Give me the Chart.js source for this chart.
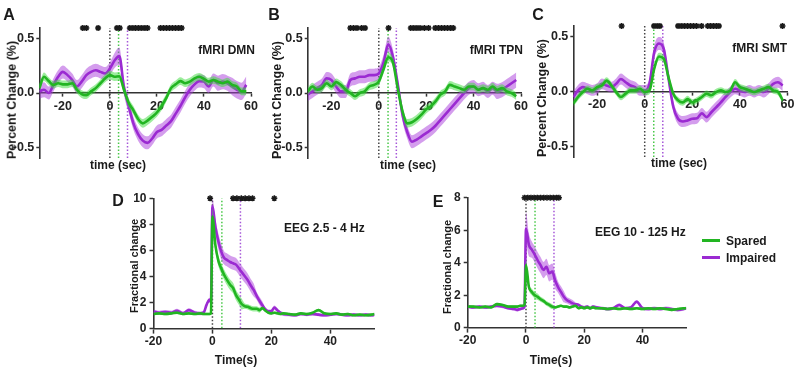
<!DOCTYPE html>
<html>
<head>
<meta charset="utf-8">
<script src="https://cdn.jsdelivr.net/npm/chart.js"></script>
<style>
  body { margin: 0; background: #fff; }
  #wrap { position: relative; width: 800px; height: 372px; overflow: hidden;
          font-family: 'Liberation Sans', Arial, sans-serif; font-weight: bold; color: #1a1a1a; }
  canvas { position: absolute; left: 0; top: 0; }
  .t { position: absolute; white-space: nowrap; line-height: 1; font-size: 12px; transform: translate(-50%, -50%); }
  .letter { font-size: 16px; }
  .rot { transform: translate(-50%, -50%) rotate(-90deg); }
  .yl { font-size: 12.5px; }
  .yl2 { font-size: 11px; }
  .right { transform: translate(-100%, -50%); }
  .left { transform: translate(0, -50%); }
  .key { position: absolute; width: 18px; height: 3px; }
</style>
</head>
<body>
<div id="wrap">
  <canvas id="cA" width="800" height="372"></canvas>
  <canvas id="cB" width="800" height="372"></canvas>
  <canvas id="cC" width="800" height="372"></canvas>
  <canvas id="cD" width="800" height="372"></canvas>
  <canvas id="cE" width="800" height="372"></canvas>

  <div class="t letter" style="left:9px;top:15px">A</div>
  <div class="t letter" style="left:274px;top:15px">B</div>
  <div class="t letter" style="left:538px;top:15px">C</div>
  <div class="t letter" style="left:118px;top:201px">D</div>
  <div class="t letter" style="left:438px;top:202px">E</div>

  <div class="t rot yl" style="left:12px;top:100px">Percent Change (%)</div>
  <div class="t rot yl" style="left:277px;top:100px">Percent Change (%)</div>
  <div class="t rot yl" style="left:542px;top:98px">Percent Change (%)</div>
  <div class="t rot yl2" style="left:134px;top:266px">Fractional change</div>
  <div class="t rot yl2" style="left:447px;top:267px">Fractional change</div>

  <div class="t" style="left:118px;top:165px">time (sec)</div>
  <div class="t" style="left:408px;top:165px">time (sec)</div>
  <div class="t" style="left:679px;top:163px">time (sec)</div>
  <div class="t" style="left:236px;top:360px">Time(s)</div>
  <div class="t" style="left:551px;top:360px">Time(s)</div>

  <div class="t right" style="left:255px;top:50px">fMRI DMN</div>
  <div class="t right" style="left:523px;top:50px">fMRI TPN</div>
  <div class="t right" style="left:787px;top:48px">fMRI SMT</div>
  <div class="t left" style="left:284px;top:228px">EEG 2.5 - 4 Hz</div>
  <div class="t left" style="left:595px;top:232px">EEG 10 - 125 Hz</div>

  <div class="key" style="left:702px;top:239px;background:#22b522"></div>
  <div class="t left" style="left:726px;top:241px">Spared</div>
  <div class="key" style="left:702px;top:256px;background:#9b2ad2"></div>
  <div class="t left" style="left:726px;top:258px">Impaired</div>
</div>

<script>
// ---- fMRI panels (A-C), time in sec ----
const fmriTime = [-30,-28,-26,-24,-22,-20,-18,-16,-14,-12,-10,-8,-6,-4,-2,0,2,4,6,8,10,12,14,16,18,20,22,24,26,28,30,32,34,36,38,40,42,44,46,48,50,52,54,56,58];
const fmriXTicks = [-20, 0, 20, 40, 60];
const fmriYTicks = [-0.5, 0, 0.5];

const dmnSpared = [0.045,0.15,0.11,0.075,0.09,0.08,0.08,0.09,0.03,-0.01,-0.02,0.015,0.045,0.09,0.135,0.165,0.15,0.155,0.03,-0.09,-0.16,-0.24,-0.28,-0.255,-0.22,-0.18,-0.12,-0.045,0.045,0.08,0.11,0.09,0.105,0.135,0.15,0.13,0.105,0.12,0.105,0.09,0.105,0.075,0.06,0.015,0.015];
const dmnSparedSem = [0.04,0.04,0.035,0.035,0.035,0.035,0.035,0.035,0.035,0.035,0.035,0.035,0.035,0.035,0.035,0.04,0.04,0.04,0.04,0.04,0.04,0.04,0.04,0.04,0.04,0.04,0.04,0.035,0.035,0.035,0.035,0.035,0.035,0.035,0.035,0.035,0.035,0.035,0.035,0.035,0.035,0.035,0.035,0.035,0.035];
const dmnImpaired = [0.015,0.03,0.0,0.075,0.15,0.195,0.165,0.12,0.06,0.105,0.165,0.195,0.21,0.195,0.18,0.225,0.3,0.34,0.05,-0.12,-0.28,-0.38,-0.44,-0.46,-0.42,-0.36,-0.34,-0.3,-0.26,-0.19,-0.12,-0.04,0.03,0.08,0.11,0.105,0.06,0.12,0.09,0.105,0.09,0.06,0.03,0.015,0.075];
const dmnImpairedSem = [0.07,0.07,0.06,0.06,0.06,0.06,0.06,0.06,0.06,0.06,0.06,0.06,0.06,0.06,0.06,0.06,0.07,0.08,0.07,0.06,0.06,0.06,0.06,0.06,0.06,0.06,0.06,0.06,0.06,0.06,0.06,0.06,0.06,0.06,0.06,0.06,0.06,0.06,0.07,0.07,0.07,0.08,0.08,0.08,0.08];
const dmnStars = [-11.5,-10,-5,3,4.2,8.5,9.8,11,12.3,13.6,14.9,16,21.5,22.8,24.1,25.4,26.7,28,29.3,30.5];
const dmnMarkers = [0, 3.7, 7.5];

const tpnSpared = [0.015,0.06,0.03,0.045,0.09,0.06,0.1,0.075,0.03,0.0,-0.03,0.0,0.015,0.06,0.075,0.105,0.22,0.33,0.28,0.04,-0.17,-0.28,-0.27,-0.24,-0.2,-0.15,-0.12,-0.075,-0.015,0.015,0.075,0.06,0.045,0.03,0.06,0.06,0.03,0.045,0.03,0.06,0.03,0.045,0.015,0.0,-0.03];
const tpnSparedSem = [0.035,0.035,0.035,0.035,0.035,0.035,0.035,0.035,0.035,0.035,0.035,0.035,0.035,0.035,0.035,0.035,0.04,0.04,0.04,0.04,0.04,0.04,0.04,0.04,0.04,0.04,0.035,0.035,0.035,0.035,0.035,0.035,0.035,0.035,0.035,0.035,0.035,0.035,0.035,0.035,0.035,0.035,0.035,0.035,0.035];
const tpnImpaired = [-0.015,0.015,0.045,0.075,0.135,0.12,0.06,0.015,0.015,0.12,0.135,0.15,0.15,0.165,0.165,0.18,0.28,0.45,0.33,0.08,-0.2,-0.36,-0.45,-0.43,-0.4,-0.37,-0.34,-0.3,-0.25,-0.2,-0.15,-0.1,-0.05,0.0,0.045,0.06,0.03,0.045,0.015,0.045,0.015,0.03,0.06,0.09,0.12];
const tpnImpairedSem = [0.06,0.06,0.06,0.06,0.06,0.06,0.06,0.06,0.06,0.06,0.06,0.06,0.06,0.06,0.06,0.06,0.07,0.07,0.07,0.06,0.06,0.06,0.06,0.06,0.06,0.06,0.06,0.06,0.06,0.06,0.06,0.06,0.06,0.06,0.06,0.06,0.06,0.06,0.06,0.06,0.07,0.07,0.07,0.07,0.07];
const tpnStars = [-12,-10.6,-9.2,-7.2,-5.8,4.1,13.5,14.8,16.1,17.4,19.2,21,23.8,25.1,26.4,27.7,29,30.3,31.4];
const tpnMarkers = [0, 3.9, 7.4];

const smtSpared = [-0.11,-0.05,-0.005,0.025,0.01,0.04,0.055,0.1,0.055,-0.005,-0.05,-0.02,0.01,0.01,0.025,-0.005,0.01,0.21,0.32,0.3,0.13,-0.02,-0.08,-0.1,-0.07,-0.1,-0.08,-0.05,-0.02,-0.035,-0.005,0.01,-0.005,0.01,0.085,0.04,0.025,0.01,-0.005,0.01,0.025,0.04,0.01,-0.005,-0.08];
const smtSparedSem = [0.03,0.03,0.03,0.03,0.03,0.03,0.03,0.03,0.03,0.03,0.03,0.03,0.03,0.03,0.03,0.03,0.035,0.035,0.035,0.035,0.035,0.03,0.03,0.03,0.03,0.03,0.03,0.03,0.03,0.03,0.03,0.03,0.03,0.03,0.03,0.03,0.03,0.03,0.03,0.03,0.03,0.03,0.03,0.03,0.03];
const smtImpaired = [-0.05,0.01,0.04,0.025,0.01,0.025,0.07,0.055,0.04,0.07,0.115,0.085,0.055,0.04,0.01,0.01,0.07,0.36,0.44,0.39,0.12,-0.14,-0.25,-0.275,-0.265,-0.25,-0.245,-0.2,-0.235,-0.19,-0.145,-0.1,-0.05,-0.005,0.025,0.01,-0.005,0.01,-0.005,0.01,-0.005,0.025,0.07,0.085,0.055];
const smtImpairedSem = [0.05,0.05,0.05,0.05,0.05,0.05,0.05,0.05,0.05,0.05,0.05,0.05,0.05,0.05,0.05,0.05,0.05,0.06,0.06,0.06,0.05,0.05,0.05,0.05,0.05,0.05,0.05,0.05,0.05,0.05,0.05,0.05,0.05,0.05,0.05,0.05,0.05,0.05,0.05,0.05,0.05,0.05,0.05,0.05,0.05];
const smtStars = [-9.7,3.9,5.2,6.4,14,15.3,16.6,17.9,19.2,20.5,21.8,23.9,26.5,27.7,28.9,30.1,31.2,57.9];
const smtMarkers = [0, 3.8, 7.6];

// ---- EEG panels (D, E), time in s ----
const eegTime = [-20,-18,-16,-14,-12,-10,-8,-6,-4,-3,-2,-1,-0.5,0,1,2,3,4,5,6,7,8,9,10,11,12,13,14,15,16,17,18,19,20,21,22,23,24,26,28,30,32,34,36,38,40,42,44,46,48,50,52,54,55];
const eegXTicks = [-20, 0, 20, 40];
const deltaYTicks = [0, 2, 4, 6, 8, 10];
const gammaYTicks = [0, 2, 4, 6, 8];

const deltaSpared = [1.1,1.15,1.1,1.15,1.2,1.1,1.15,1.1,1.15,1.1,1.1,1.1,1.15,8.6,6.4,5.2,4.6,4.1,3.7,3.35,3.1,2.55,2.2,1.85,1.7,1.65,1.55,1.5,1.5,1.4,1.55,1.35,1.2,1.15,1.2,1.15,1.1,1.15,1.1,1.05,1.15,1.1,1.2,1.4,1.15,1.1,1.15,1.05,1.1,1.0,1.05,1.0,1.05,1.1];
const deltaSparedSem = [0.1,0.1,0.1,0.1,0.1,0.1,0.1,0.1,0.1,0.1,0.1,0.1,0.1,0.6,0.4,0.4,0.4,0.4,0.4,0.4,0.4,0.4,0.4,0.4,0.2,0.2,0.2,0.2,0.2,0.2,0.1,0.1,0.1,0.1,0.1,0.1,0.1,0.1,0.1,0.1,0.1,0.1,0.1,0.1,0.1,0.1,0.1,0.1,0.1,0.1,0.1,0.1,0.1,0.1];
const deltaImpaired = [1.3,1.2,1.25,1.2,1.35,1.15,1.4,1.2,1.15,1.2,1.8,2.2,2.0,9.4,7.8,6.7,5.9,5.4,5.25,5.1,5.0,4.9,4.6,4.3,4.0,3.7,3.3,2.95,2.5,2.1,1.75,1.45,1.3,1.3,1.6,1.4,1.2,1.1,1.05,1.0,1.1,1.05,1.1,1.05,1.0,1.05,1.1,1.05,1.0,1.05,1.0,1.05,1.0,1.05];
const deltaImpairedSem = [0.15,0.15,0.15,0.15,0.15,0.15,0.15,0.15,0.15,0.15,0.15,0.15,0.15,0.6,0.6,0.6,0.6,0.5,0.5,0.5,0.5,0.5,0.5,0.5,0.5,0.5,0.5,0.5,0.3,0.3,0.3,0.15,0.15,0.15,0.15,0.15,0.15,0.15,0.12,0.12,0.12,0.12,0.12,0.12,0.12,0.12,0.12,0.12,0.12,0.12,0.12,0.12,0.12,0.12];
const deltaStars = [-0.8,7.0,8.3,9.8,11.1,12.4,13.6,21];
const deltaMarkers = [0, 3.2, 9.5];

const gammaSpared = [1.3,1.3,1.25,1.3,1.25,1.45,1.4,1.3,1.3,1.3,1.35,1.35,1.4,3.85,2.5,2.2,2.0,1.9,1.75,1.65,1.5,1.4,1.3,1.25,1.3,1.35,1.3,1.3,1.25,1.3,1.35,1.2,1.25,1.2,1.25,1.2,1.25,1.2,1.2,1.15,1.2,1.15,1.2,1.15,1.2,1.15,1.2,1.15,1.2,1.15,1.1,1.15,1.2,1.2];
const gammaSparedSem = [0.08,0.08,0.08,0.08,0.08,0.08,0.08,0.08,0.08,0.08,0.08,0.08,0.08,0.3,0.2,0.2,0.2,0.2,0.15,0.15,0.15,0.15,0.15,0.08,0.08,0.08,0.08,0.08,0.08,0.08,0.08,0.08,0.08,0.08,0.08,0.08,0.08,0.08,0.08,0.08,0.08,0.08,0.08,0.08,0.08,0.08,0.08,0.08,0.08,0.08,0.08,0.08,0.08,0.08];
const gammaImpaired = [1.3,1.25,1.3,1.25,1.3,1.35,1.3,1.2,1.15,1.1,1.15,1.2,1.3,6.1,5.1,4.8,4.5,4.15,3.85,3.55,3.75,3.35,3.45,2.9,2.5,2.2,1.9,1.7,1.6,1.5,1.45,1.4,1.3,1.25,1.3,1.2,1.3,1.25,1.2,1.15,1.2,1.4,1.2,1.25,1.6,1.2,1.15,1.2,1.15,1.2,1.15,1.1,1.15,1.2];
const gammaImpairedSem = [0.1,0.1,0.1,0.1,0.1,0.1,0.1,0.1,0.1,0.1,0.1,0.1,0.1,1.0,0.7,0.5,0.5,0.5,0.5,0.5,0.5,0.5,0.5,0.5,0.35,0.35,0.35,0.2,0.2,0.2,0.1,0.1,0.1,0.1,0.1,0.1,0.1,0.1,0.1,0.1,0.1,0.1,0.1,0.1,0.1,0.1,0.1,0.1,0.1,0.1,0.1,0.1,0.1,0.1];
const gammaStars = [-0.5,0.6,1.7,2.8,3.9,5,6.1,7.2,8.3,9.4,10.5,11.3];
const gammaMarkers = [0, 3.1, 9.6];

// ---- styling ----
const GREEN = '#22b522', GREEN_BAND = 'rgba(60,220,60,0.5)', GREEN_MARK = '#48c848';
const PURPLE = '#9b2ad2', PURPLE_BAND = 'rgba(170,60,220,0.5)', PURPLE_MARK = '#a556d8';
const AXIS = '#333';
const FONT = "'Liberation Sans', Arial, sans-serif";
const Y_AXIS_W = 30;

const pts = (times, vals) => times.map((t, i) => ({ x: t, y: vals[i] }));
const offset = (times, vals, sem, sign) => times.map((t, i) => ({ x: t, y: vals[i] + sign * sem[i] }));

function band(times, vals, sem, color, order) {
  return [
    { data: offset(times, vals, sem, 1), borderColor: 'rgba(0,0,0,0)', borderWidth: 0, pointRadius: 0,
      fill: false, cubicInterpolationMode: 'monotone', order },
    { data: offset(times, vals, sem, -1), borderColor: 'rgba(0,0,0,0)', borderWidth: 0, pointRadius: 0,
      fill: '-1', backgroundColor: color, cubicInterpolationMode: 'monotone', order }
  ];
}

function line(times, vals, color, order) {
  return { data: pts(times, vals), borderColor: color, borderWidth: 2.6, pointRadius: 0,
           fill: false, cubicInterpolationMode: 'monotone', order };
}

function axisOpts(p, which) {
  const isX = which === 'x';
  return {
    type: 'linear',
    min: isX ? p.xMin : p.yMin,
    max: isX ? p.xMax : p.yMax,
    position: isX ? { y: 0 } : 'left',
    afterFit: isX ? undefined : (s) => { s.width = Y_AXIS_W; },
    afterBuildTicks: (s) => { s.ticks = (isX ? p.xTicks : p.yTicks).map(v => ({ value: v })); },
    grid: { display: true, drawOnChartArea: false, drawTicks: true, tickLength: p.tickLen, tickColor: AXIS, tickWidth: 1.5 },
    border: { display: true, color: AXIS, width: 1.6 },
    ticks: {
      color: '#222',
      font: { family: FONT, size: p.tickFont, weight: 'bold' },
      padding: isX ? p.xPad : p.yPad,
      maxRotation: 0,
      autoSkip: false,
      callback: (v) => (isX ? String(v) : v.toFixed(p.yDec))
    }
  };
}

function drawPanel(id, p) {
  const markerColors = ['#444', GREEN_MARK, PURPLE_MARK];
  const datasets = [
    ...band(p.time, p.impaired, p.impairedSem, PURPLE_BAND, 5),
    line(p.time, p.impaired, PURPLE, 4),
    ...band(p.time, p.spared, p.sparedSem, GREEN_BAND, 3),
    line(p.time, p.spared, GREEN, 2)
  ];
  p.markers.forEach((t, i) => {
    datasets.push({ data: [{ x: t, y: p.yMin }, { x: t, y: p.yMax }], borderColor: markerColors[i],
                    borderWidth: 1.5, borderDash: [1.5, 2], pointRadius: 0, fill: false, order: 6 });
  });
  datasets.push({ data: p.stars.map(t => ({ x: t, y: p.yMax })), showLine: false, pointStyle: 'star',
                  pointRadius: 3, borderColor: '#1a1a1a', borderWidth: 1.5, clip: false, order: 0 });

  new Chart(document.getElementById(id), {
    type: 'line',
    data: { datasets },
    options: {
      responsive: false,
      animation: false,
      devicePixelRatio: 1,
      events: [],
      layout: { padding: { left: p.area.left - Y_AXIS_W, right: 800 - p.area.right,
                           top: p.area.top, bottom: 372 - p.area.bottom } },
      plugins: { legend: { display: false }, tooltip: { enabled: false } },
      scales: { x: axisOpts(p, 'x'), y: axisOpts(p, 'y') }
    }
  });
}

const fmriBase = { time: fmriTime, xMin: -30, xMax: 60, yMin: -0.6, yMax: 0.6, xTicks: fmriXTicks, yTicks: fmriYTicks,
                   yDec: 1, tickLen: 3, tickFont: 12.5, xPad: 3, yPad: 2 };
const eegBase = { time: eegTime, xMin: -20, xMax: 55, yMin: 0, xTicks: eegXTicks, yDec: 0,
                  tickLen: 4, tickFont: 12, xPad: 2, yPad: 3 };

drawPanel('cA', { ...fmriBase, spared: dmnSpared, sparedSem: dmnSparedSem, impaired: dmnImpaired, impairedSem: dmnImpairedSem,
                  stars: dmnStars, markers: dmnMarkers, area: { left: 39.3, right: 251, top: 28, bottom: 158 } });
drawPanel('cB', { ...fmriBase, spared: tpnSpared, sparedSem: tpnSparedSem, impaired: tpnImpaired, impairedSem: tpnImpairedSem,
                  stars: tpnStars, markers: tpnMarkers, area: { left: 307.7, right: 521, top: 28, bottom: 158 } });
drawPanel('cC', { ...fmriBase, spared: smtSpared, sparedSem: smtSparedSem, impaired: smtImpaired, impairedSem: smtImpairedSem,
                  stars: smtStars, markers: smtMarkers, area: { left: 573.3, right: 787.5, top: 26, bottom: 157 } });
drawPanel('cD', { ...eegBase, yMax: 10, yTicks: deltaYTicks, spared: deltaSpared, sparedSem: deltaSparedSem,
                  impaired: deltaImpaired, impairedSem: deltaImpairedSem, stars: deltaStars, markers: deltaMarkers,
                  area: { left: 153.5, right: 374.5, top: 198.3, bottom: 328.3 } });
drawPanel('cE', { ...eegBase, yMax: 8, yTicks: gammaYTicks, spared: gammaSpared, sparedSem: gammaSparedSem,
                  impaired: gammaImpaired, impairedSem: gammaImpairedSem, stars: gammaStars, markers: gammaMarkers,
                  area: { left: 467.7, right: 686.3, top: 197.7, bottom: 327.7 } });
</script>
</body>
</html>
